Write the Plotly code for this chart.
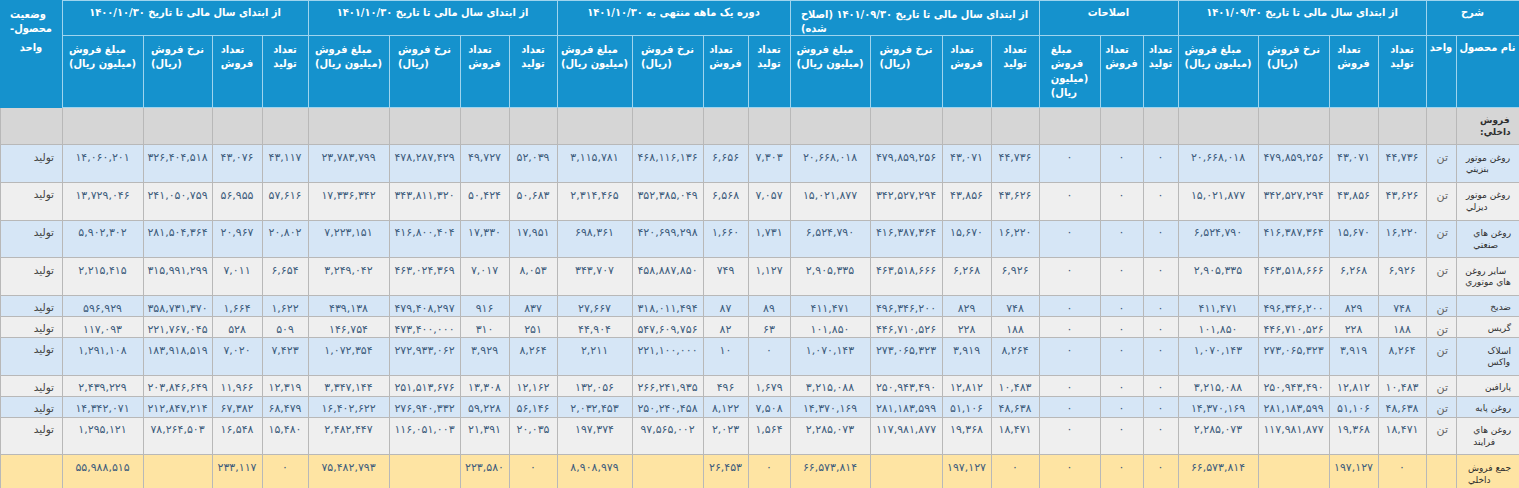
import plotly.graph_objects as go

FA = str.maketrans("0123456789", "۰۱۲۳۴۵۶۷۸۹")
RLM = "\u200f"


def fa(v):
    # persian digits with thousands separator, blank for missing
    if v is None:
        return ""
    return f"{v:,}".translate(FA)


def rtl(s):
    # mark every line as right-to-left and keep words from being wrapped
    if not s:
        return RLM
    return "<br>".join(RLM + p.replace(" ", "\u00a0") + RLM for p in s.split("<br>"))


products = ["روغن موتور<br>بنزيني", "روغن موتور<br>ديزلي", "روغن هاي<br>صنعتي",
            "ساير روغن<br>هاي موتوري", "ضديخ", "گريس", "اسلاک<br>واکس",
            "پارافين", "روغن پايه", "روغن هاي<br>فرايند"]
section_name = "<b>فروش</b><br><b>داخلي:</b>"
total_name = "جمع فروش<br>داخلي"
unit = "تن"
status = "توليد"

# از ابتدای سال مالی تا تاریخ ۱۴۰۱/۰۹/۳۰
q3_prod = [44736, 43626, 16220, 6926, 748, 188, 8264, 10483, 48638, 18471]
q3_sales = [43071, 43856, 15670, 6268, 829, 228, 3919, 12812, 51106, 19368]
q3_rate = [479859256, 342527294, 416387364, 463518666, 496346200, 446710526,
           273065323, 250943490, 281183599, 117981877]
q3_amount = [20668018, 15021877, 6524790, 2905335, 411471, 101850, 1070143,
             3215088, 14370169, 2285073]
q3_total = [0, 197127, None, 66573814]

# اصلاحات
corr_prod = [0, 0, 0, 0, 0, 0, 0, 0, 0, 0]
corr_sales = [0, 0, 0, 0, 0, 0, 0, 0, 0, 0]
corr_amount = [0, 0, 0, 0, 0, 0, 0, 0, 0, 0]
corr_total = [0, 0, 0]

# اصلاح شده
adj_prod = [44736, 43626, 16220, 6926, 748, 188, 8264, 10483, 48638, 18471]
adj_sales = [43071, 43856, 15670, 6268, 829, 228, 3919, 12812, 51106, 19368]
adj_rate = [479859256, 342527294, 416387364, 463518666, 496346200, 446710526,
            273065323, 250943490, 281183599, 117981877]
adj_amount = [20668018, 15021877, 6524790, 2905335, 411471, 101850, 1070143,
              3215088, 14370169, 2285073]
adj_total = [0, 197127, None, 66573814]

# دوره یک ماهه منتهی به ۱۴۰۱/۱۰/۳۰
m_prod = [7303, 7057, 1731, 1127, 89, 63, 0, 1679, 7508, 1564]
m_sales = [6656, 6568, 1660, 749, 87, 82, 10, 496, 8122, 2023]
m_rate = [468116136, 352385049, 420699298, 458887850, 318011494, 547609756,
          221100000, 266241935, 250240458, 97565002]
m_amount = [3115781, 2314465, 698361, 343707, 27667, 44904, 2211, 132056,
            2032453, 197374]
m_total = [0, 26453, None, 8908979]

# از ابتدای سال مالی تا تاریخ ۱۴۰۱/۱۰/۳۰
y_prod = [52039, 50683, 17951, 8053, 837, 251, 8264, 12162, 56146, 20035]
y_sales = [49727, 50424, 17330, 7017, 916, 310, 3929, 13308, 59228, 21391]
y_rate = [478287429, 343811320, 416800404, 463024369, 479408297, 473400000,
          272933062, 251513676, 276940332, 116051003]
y_amount = [23783799, 17336342, 7223151, 3249042, 439138, 146754, 1072354,
            3347144, 16402622, 2482447]
y_total = [0, 223580, None, 75482793]

# از ابتدای سال مالی تا تاریخ ۱۴۰۰/۱۰/۳۰
p_prod = [43117, 57616, 20802, 6654, 1622, 509, 7423, 12319, 68479, 15480]
p_sales = [43076, 56955, 20967, 7011, 1664, 528, 7020, 11966, 67382, 16548]
p_rate = [326404518, 241050759, 281504364, 315991299, 358731370, 221767045,
          183918519, 203846649, 212847214, 78264503]
p_amount = [14060201, 13729046, 5902302, 2215415, 596929, 117093, 1291108,
            2439229, 14342071, 1295121]
p_total = [0, 233117, None, 55988515]

groups = ["از ابتدای سال مالی تا تاریخ ۱۴۰۰/۱۰/۳۰",
          "از ابتدای سال مالی تا تاریخ ۱۴۰۱/۱۰/۳۰",
          "دوره یک ماهه منتهی به ۱۴۰۱/۱۰/۳۰",
          "از ابتدای سال مالی تا تاریخ ۱۴۰۱/۰۹/۳۰ (اصلاح<br>شده)",
          "اصلاحات",
          "از ابتدای سال مالی تا تاریخ ۱۴۰۱/۰۹/۳۰",
          "شرح"]
status_head = "وضعیت<br>محصول-"

h_prod = "تعداد<br>تولید"
h_sales = "تعداد<br>فروش"
h_rate = "نرخ فروش<br>(ریال)"
h_amount = "مبلغ فروش<br>(میلیون ریال)"
h_amount_short = "مبلغ<br>فروش<br>(میلیون<br>ریال)"


def col(vals, total):
    return [""] + [fa(v) for v in vals] + [fa(total)]


def block4(prod, sales, rate, amount, total):
    return [col(amount, total[3]), col(rate, total[2]),
            col(sales, total[1]), col(prod, total[0])]


n = len(products)
columns = [[""] + [status] * n + [""]]
columns += block4(p_prod, p_sales, p_rate, p_amount, p_total)
columns += block4(y_prod, y_sales, y_rate, y_amount, y_total)
columns += block4(m_prod, m_sales, m_rate, m_amount, m_total)
columns += block4(adj_prod, adj_sales, adj_rate, adj_amount, adj_total)
columns += [col(corr_amount, corr_total[2]), col(corr_sales, corr_total[1]),
            col(corr_prod, corr_total[0])]
columns += block4(q3_prod, q3_sales, q3_rate, q3_amount, q3_total)
columns += [[""] + [unit] * n + [""]]
columns += [[section_name] + products + [total_name]]
columns = [[rtl(s) for s in c] for c in columns]

sub_heads = ["واحد"] + [h_amount, h_rate, h_sales, h_prod] * 4 + \
    [h_amount_short, h_sales, h_prod] + [h_amount, h_rate, h_sales, h_prod] + \
    ["واحد", "نام محصول"]

widths = [62, 81, 69, 50, 46, 81, 71, 49, 48, 75, 71, 45, 42,
          80, 72, 49, 48, 61, 43, 35, 80, 71, 49, 48, 30, 63]
group_widths = [62, 246, 249, 233, 249, 139, 248, 93]

HEAD = "#1592cd"
HEAD_LINE = "#9fd4ee"
GRID = "#b8b8b8"
HFONT = "DejaVu Sans Condensed, DejaVu Sans"
BFONT = "DejaVu Sans"

row_fill = ["#d6d6d6"] + ["#d6e6f6", "#efefef"] * 5 + ["#fee4a3"]
ncol = len(columns)
font_colors = ["#444444"] + ["#3d5c7c"] * (ncol - 3) + ["#666666", "#2e2e2e"]
font_sizes = [10.5] + [11] * (ncol - 2) + [9]
aligns = ["right"] + ["center"] * (ncol - 3) + ["right", "right"]

H = 488
top_row = 35

fig = go.Figure()
# top row of merged group titles; its domain reaches under the second table
# so the header never needs more room than it has
fig.add_trace(go.Table(
    domain=dict(x=[0, 1], y=[1 - 80 / H, 1]),
    columnwidth=group_widths,
    header=dict(
        values=[rtl(status_head)] + [rtl(g) for g in groups],
        fill_color=HEAD,
        line=dict(color=[HEAD] + [HEAD_LINE] * 7, width=1),
        font=dict(family=HFONT, size=11, color="white", weight="bold"),
        align="center",
        height=top_row,
    ),
    cells=dict(
        values=[[RLM] for _ in range(8)],
        fill_color=HEAD,
        line=dict(color=HEAD, width=1),
        height=20,
    ),
))
fig.add_trace(go.Table(
    domain=dict(x=[0, 1], y=[0, 1 - top_row / H]),
    columnwidth=widths,
    header=dict(
        values=[rtl(h) for h in sub_heads],
        fill_color=HEAD,
        line=dict(color=[HEAD] + [HEAD_LINE] * (ncol - 1), width=1),
        font=dict(family=HFONT, size=11, color="white", weight="bold"),
        align="center",
        height=72,
    ),
    cells=dict(
        values=columns,
        fill_color=[row_fill] * ncol,
        line=dict(color=GRID, width=1),
        font=dict(family=BFONT, size=font_sizes, color=font_colors),
        align=aligns,
        height=21,
    ),
))
fig.update_layout(
    width=1519, height=H,
    margin=dict(l=0, r=0, t=0, b=0),
    paper_bgcolor="white",
)
diag = """
document.body.style.margin='0';document.body.style.overflow='hidden';
var gd = document.getElementById('{plot_id}');
function showErr(e){var d=document.createElement('pre');d.style.cssText='position:absolute;left:10px;top:200px;color:red;font-size:13px;z-index:99;background:#fff';d.textContent=String(e&&e.stack||e);document.body.appendChild(d);}
try { var p = Plotly.newPlot(gd, gd.data, gd.layout, {displayModeBar:false}); if (p && p.catch) p.catch(showErr); } catch(e) { showErr(e); }
"""
fig.write_html("out.html", config={"displayModeBar": False}, post_script=diag)
